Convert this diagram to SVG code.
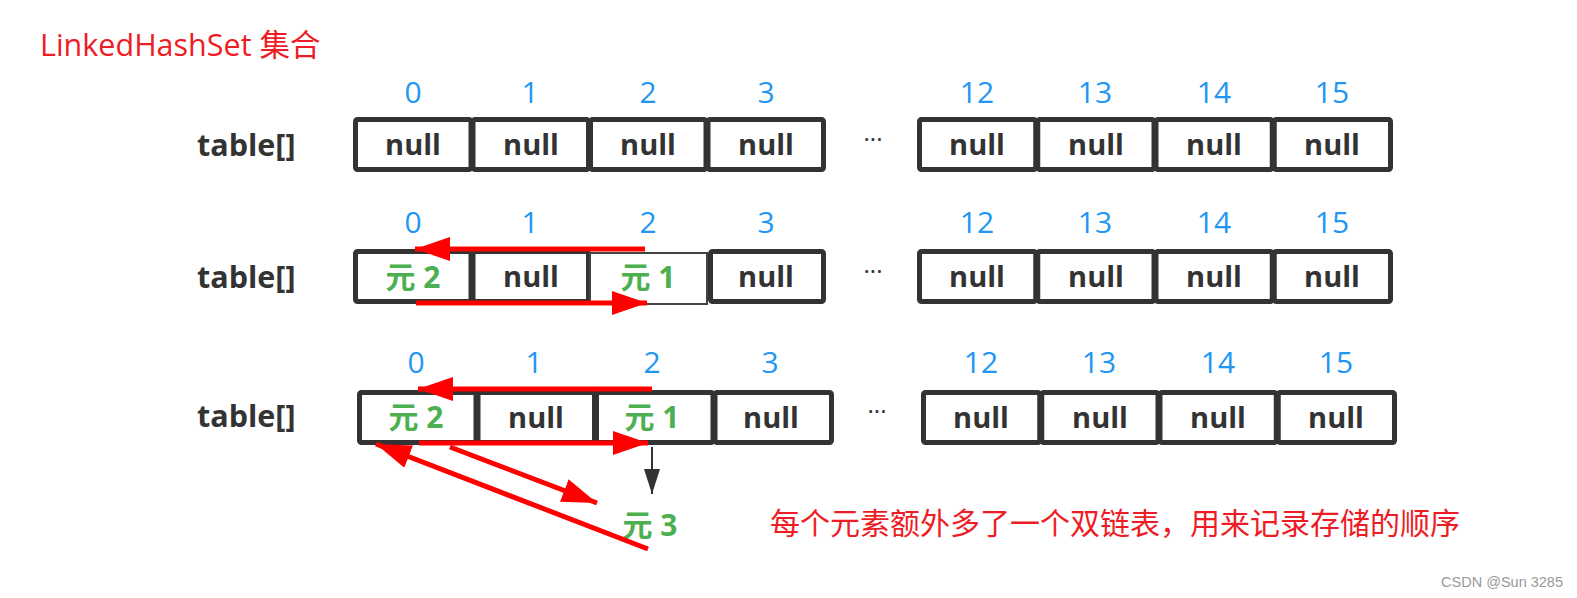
<svg xmlns="http://www.w3.org/2000/svg" width="1577" height="598" viewBox="0 0 1577 598">
<style>
.bg{fill:#fff}
.cell{fill:#fff;stroke:#333;stroke-width:5}
.thin{fill:#fff;stroke:#444;stroke-width:2}
.nul{font-family:"Open Sans","Noto Sans",sans-serif;font-weight:bold;font-size:29px;fill:#333;text-anchor:middle}
.lbl{font-family:"Open Sans","Noto Sans",sans-serif;font-weight:bold;font-size:30.5px;fill:#333}
.idx{font-family:"Open Sans","Noto Sans",sans-serif;font-size:30px;fill:#2196F3;text-anchor:middle}
.el{font-family:"Open Sans","Noto Sans CJK SC",sans-serif;font-weight:bold;font-size:30px;fill:#4CAF50;text-anchor:middle}
.dots{font-family:"Open Sans",sans-serif;font-size:24px;fill:#333;text-anchor:middle}
.red{fill:none;stroke:#FF0000;stroke-width:5;marker-end:url(#rh)}
.blk{fill:none;stroke:#333;stroke-width:2;marker-end:url(#bh)}
.note{font-family:"Noto Sans CJK SC",sans-serif;font-size:30px;fill:#EE1C25}
</style>
<defs>
<marker id="rh" markerUnits="userSpaceOnUse" viewBox="0 0 35 24" refX="35" refY="12" markerWidth="35" markerHeight="24" orient="auto"><path d="M0,0 L35,12 L0,24 Z" fill="#FF0000"/></marker>
<marker id="bh" markerUnits="userSpaceOnUse" viewBox="0 0 25 16" refX="25" refY="8" markerWidth="25" markerHeight="16" orient="auto"><path d="M0,0 L25,8 L0,16 Z" fill="#333"/></marker>
</defs>
<rect class="bg" x="0" y="0" width="1577" height="598"/>
<text id="title" x="40" y="56" font-family="'Open Sans','Noto Sans CJK SC',sans-serif" font-size="30.5" fill="#EE1C25">LinkedHashSet 集合</text>

<g id="row1">
<text class="lbl" x="197" y="156">table[]</text>
<g id="r1-idx">
<text class="idx" x="413" y="103">0</text><text class="idx" x="530" y="103">1</text><text class="idx" x="648" y="103">2</text><text class="idx" x="766" y="103">3</text>
<text class="idx" x="977" y="103">12</text><text class="idx" x="1095" y="103">13</text><text class="idx" x="1214" y="103">14</text><text class="idx" x="1332" y="103">15</text>
</g>
<g id="r1-c0"><rect class="cell" x="355.5" y="119.5" width="115.5" height="50" rx="2"/><text class="nul" x="413" y="155">null</text></g>
<g id="r1-c1"><rect class="cell" x="473" y="119.5" width="115.5" height="50" rx="2"/><text class="nul" x="531" y="155">null</text></g>
<g id="r1-c2"><rect class="cell" x="590.5" y="119.5" width="115.5" height="50" rx="2"/><text class="nul" x="648" y="155">null</text></g>
<g id="r1-c3"><rect class="cell" x="708" y="119.5" width="115.5" height="50" rx="2"/><text class="nul" x="766" y="155">null</text></g>
<text class="dots" x="873" y="148">···</text>
<g id="r1-c12"><rect class="cell" x="919.5" y="119.5" width="116.25" height="50" rx="2"/><text class="nul" x="977" y="155">null</text></g>
<g id="r1-c13"><rect class="cell" x="1037.75" y="119.5" width="116.25" height="50" rx="2"/><text class="nul" x="1096" y="155">null</text></g>
<g id="r1-c14"><rect class="cell" x="1156" y="119.5" width="116.25" height="50" rx="2"/><text class="nul" x="1214" y="155">null</text></g>
<g id="r1-c15"><rect class="cell" x="1274.25" y="119.5" width="116.25" height="50" rx="2"/><text class="nul" x="1332" y="155">null</text></g>
</g>

<g id="row2">
<text class="lbl" x="197" y="288">table[]</text>
<g id="r2-idx">
<text class="idx" x="413" y="233">0</text><text class="idx" x="530" y="233">1</text><text class="idx" x="648" y="233">2</text><text class="idx" x="766" y="233">3</text>
<text class="idx" x="977" y="233">12</text><text class="idx" x="1095" y="233">13</text><text class="idx" x="1214" y="233">14</text><text class="idx" x="1332" y="233">15</text>
</g>
<g id="r2-c0"><rect class="cell" x="355.5" y="251.5" width="115.5" height="50" rx="2"/><text class="el" x="413" y="288">元 2</text></g>
<g id="r2-c1"><rect class="cell" x="473" y="251.5" width="115.5" height="50" rx="2"/><text class="nul" x="531" y="287">null</text></g>
<g id="r2-c2"><rect class="thin" x="590" y="253" width="117" height="51"/><text class="el" x="648" y="288">元 1</text></g>
<g id="r2-c3"><rect class="cell" x="710.5" y="251.5" width="113" height="50" rx="2"/><text class="nul" x="766" y="287">null</text></g>
<text class="dots" x="873" y="280">···</text>
<g id="r2-c12"><rect class="cell" x="919.5" y="251.5" width="116.25" height="50" rx="2"/><text class="nul" x="977" y="287">null</text></g>
<g id="r2-c13"><rect class="cell" x="1037.75" y="251.5" width="116.25" height="50" rx="2"/><text class="nul" x="1096" y="287">null</text></g>
<g id="r2-c14"><rect class="cell" x="1156" y="251.5" width="116.25" height="50" rx="2"/><text class="nul" x="1214" y="287">null</text></g>
<g id="r2-c15"><rect class="cell" x="1274.25" y="251.5" width="116.25" height="50" rx="2"/><text class="nul" x="1332" y="287">null</text></g>
</g>

<g id="row3">
<text class="lbl" x="197" y="427">table[]</text>
<g id="r3-idx">
<text class="idx" x="416" y="373">0</text><text class="idx" x="534" y="373">1</text><text class="idx" x="652" y="373">2</text><text class="idx" x="770" y="373">3</text>
<text class="idx" x="981" y="373">12</text><text class="idx" x="1099" y="373">13</text><text class="idx" x="1218" y="373">14</text><text class="idx" x="1336" y="373">15</text>
</g>
<g id="r3-c0"><rect class="cell" x="359.5" y="392.5" width="116.5" height="50" rx="2"/><text class="el" x="416" y="428">元 2</text></g>
<g id="r3-c1"><rect class="cell" x="478" y="392.5" width="116.5" height="50" rx="2"/><text class="nul" x="536" y="428">null</text></g>
<g id="r3-c2"><rect class="cell" x="596.5" y="392.5" width="116.5" height="50" rx="2"/><text class="el" x="652" y="428">元 1</text></g>
<g id="r3-c3"><rect class="cell" x="715" y="392.5" width="116.5" height="50" rx="2"/><text class="nul" x="771" y="428">null</text></g>
<text class="dots" x="877" y="420">···</text>
<g id="r3-c12"><rect class="cell" x="923.5" y="392.5" width="116.25" height="50" rx="2"/><text class="nul" x="981" y="428">null</text></g>
<g id="r3-c13"><rect class="cell" x="1041.75" y="392.5" width="116.25" height="50" rx="2"/><text class="nul" x="1100" y="428">null</text></g>
<g id="r3-c14"><rect class="cell" x="1160" y="392.5" width="116.25" height="50" rx="2"/><text class="nul" x="1218" y="428">null</text></g>
<g id="r3-c15"><rect class="cell" x="1278.25" y="392.5" width="116.25" height="50" rx="2"/><text class="nul" x="1336" y="428">null</text></g>
</g>

<g id="e3"><text class="el" x="650" y="536">元 3</text></g>

<g id="connectors">
<path class="red" d="M645,249 L415,249"/>
<path class="red" d="M416,303 L647,303"/>
<path class="red" d="M652,389 L418,389"/>
<path class="red" d="M419,443 L648,443"/>
<path class="red" d="M450,447 L597,503"/>
<path class="red" d="M648,549 L376,444"/>
<path class="blk" d="M652,447 L652,494"/>
</g>

<text id="note" class="note" x="770" y="534">每个元素额外多了一个双链表，用来记录存储的顺序</text>
<text id="wm" x="1563" y="587" font-family="'Liberation Sans',sans-serif" font-size="14.5" fill="#999" text-anchor="end">CSDN @Sun 3285</text>
</svg>
